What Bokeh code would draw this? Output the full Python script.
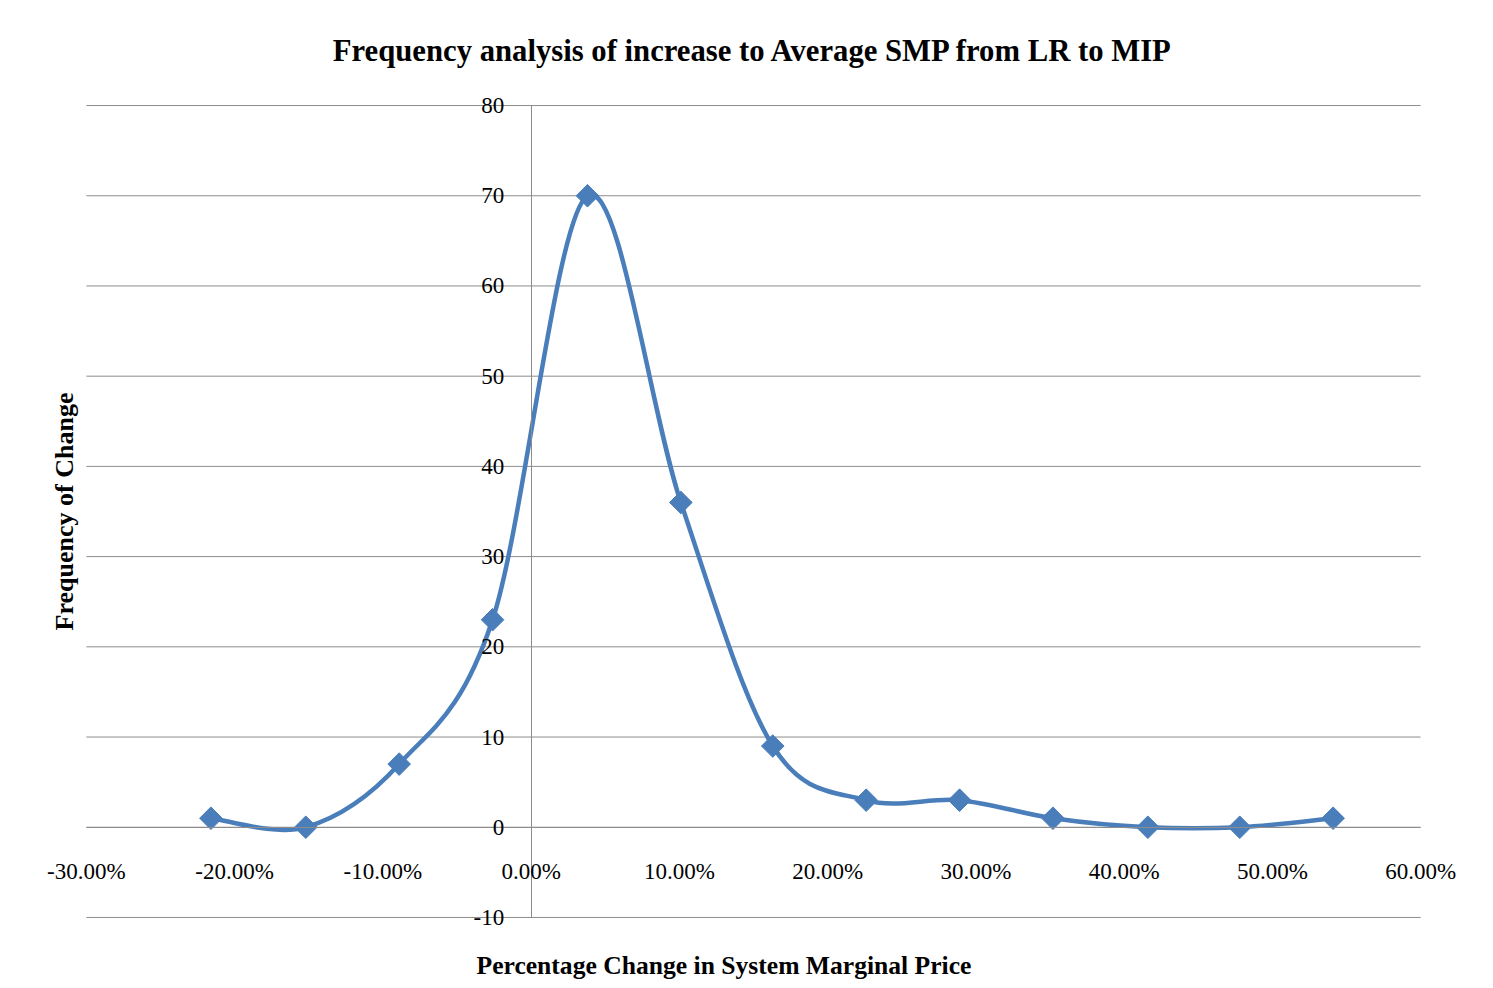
import math
from bokeh.plotting import figure
from bokeh.models import (Range1d, FixedTicker, NumeralTickFormatter, Title,
                          Label)
from bokeh.embed import file_html
from bokeh.resources import INLINE

# ---- data ----
pct_change = [-0.216, -0.152, -0.089, -0.026, 0.038, 0.101, 0.163,
              0.226, 0.289, 0.352, 0.416, 0.478, 0.541]
frequency = [1, 0, 7, 23, 70, 36, 9, 3, 3, 1, 0, 0, 1]
x_ticks = [-0.3, -0.2, -0.1, 0.0, 0.1, 0.2, 0.3, 0.4, 0.5, 0.6]
y_ticks = [-10, 0, 10, 20, 30, 40, 50, 60, 70, 80]

title_text = "Frequency analysis of increase to Average SMP from LR to MIP"
x_title = "Percentage Change in System Marginal Price"
y_title = "Frequency of Change"

BLUE = "#4A7EBB"
GRID = "#8C8C8C"
FONT = "Liberation Serif"

XPAD = 0.035   # room around the plot area so the edge tick labels show
YPAD = 2.0

p = figure(frame_width=1438, frame_height=848,
           x_range=Range1d(x_ticks[0] - XPAD, x_ticks[-1] + XPAD),
           y_range=Range1d(y_ticks[0] - YPAD, y_ticks[-1] + YPAD),
           output_backend="svg", toolbar_location=None,
           min_border_left=34, min_border_right=10,
           min_border_top=87, min_border_bottom=50)
p.outline_line_color = None
p.background_fill_color = "white"
p.border_fill_color = "white"

# title
p.add_layout(Title(text=title_text, align="center", text_font=FONT,
                   text_font_size="30.7px", text_font_style="bold",
                   text_color="black", standoff=39), "above")

# horizontal gridlines across the plot area
p.segment(x0=[x_ticks[0]] * len(y_ticks), x1=[x_ticks[-1]] * len(y_ticks),
          y0=y_ticks, y1=y_ticks, line_color=GRID, line_width=1)
p.xgrid.grid_line_color = None
p.ygrid.grid_line_color = None

# axes crossing at zero (lines only; labels drawn as annotations)
for ax in p.xaxis:
    ax.fixed_location = 0
    ax.ticker = FixedTicker(ticks=x_ticks)
    ax.formatter = NumeralTickFormatter(format="0.00%")
    ax.bounds = (x_ticks[0], x_ticks[-1])
for ax in p.yaxis:
    ax.fixed_location = 0
    ax.ticker = FixedTicker(ticks=y_ticks)
    ax.bounds = (y_ticks[0], y_ticks[-1])
for ax in list(p.xaxis) + list(p.yaxis):
    ax.axis_line_color = GRID
    ax.axis_line_width = 1
    ax.major_tick_line_color = None
    ax.minor_tick_line_color = None
    ax.major_label_text_alpha = 0
    ax.major_label_text_font_size = "1px"

# tick labels
for v in x_ticks:
    p.add_layout(Label(x=v, y=0, text="%.2f%%" % (v * 100),
                       text_align="center", text_baseline="middle",
                       y_offset=-44, text_font=FONT, text_font_size="23px",
                       text_color="black"))
for v in y_ticks:
    p.add_layout(Label(x=0, y=v, text=str(v),
                       text_align="right", text_baseline="middle",
                       x_offset=-27, text_font=FONT, text_font_size="23px",
                       text_color="black"))

# axis titles
p.add_layout(Title(text=x_title, align="left", text_font=FONT,
                   text_font_size="25.6px", text_font_style="bold",
                   text_color="black", standoff=27, offset=442), "below")
p.add_layout(Label(x=x_ticks[0], y=(y_ticks[0] + y_ticks[-1]) / 2,
                   x_offset=-22, text=y_title, angle=math.pi / 2,
                   text_align="center", text_baseline="middle",
                   text_font=FONT, text_font_size="26px",
                   text_font_style="bold", text_color="black"))

# smooth (Catmull-Rom style Bezier, like Excel's smoothed line)
n = len(pct_change)
x0, y0, x1, y1, cx0, cy0, cx1, cy1 = [], [], [], [], [], [], [], []
for i in range(n - 1):
    xa, ya = pct_change[i], frequency[i]
    xb, yb = pct_change[i + 1], frequency[i + 1]
    xp, yp = (pct_change[i - 1], frequency[i - 1]) if i > 0 else (xa, ya)
    xn, yn = (pct_change[i + 2], frequency[i + 2]) if i + 2 < n else (xb, yb)
    x0.append(xa); y0.append(ya); x1.append(xb); y1.append(yb)
    cx0.append(xa + (xb - xp) / 6); cy0.append(ya + (yb - yp) / 6)
    cx1.append(xb - (xn - xa) / 6); cy1.append(yb - (yn - ya) / 6)
p.bezier(x0=x0, y0=y0, x1=x1, y1=y1, cx0=cx0, cy0=cy0, cx1=cx1, cy1=cy1,
         line_color=BLUE, line_width=4.5)
p.scatter(pct_change, frequency, marker="square", angle=math.pi / 4,
          size=16, fill_color=BLUE, line_color=BLUE)

open("out.html", "w").write(file_html(p, INLINE))
